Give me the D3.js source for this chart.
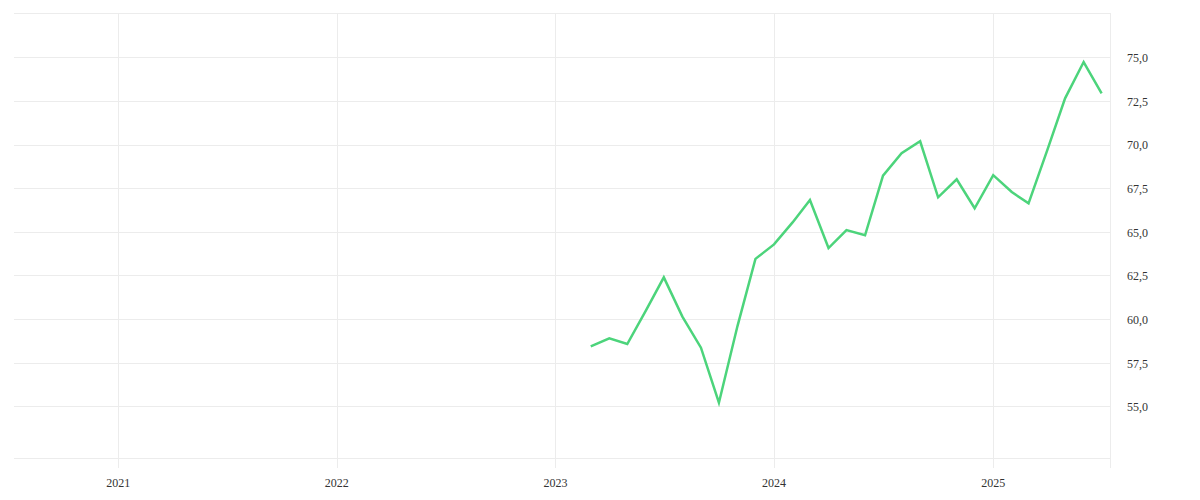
<!DOCTYPE html>
<html>
<head>
<meta charset="utf-8">
<script src="https://cdn.jsdelivr.net/npm/d3@7"></script>
<style>
  body { margin: 0; background: #fff; }
</style>
</head>
<body>
<div id="chart"></div>
<script>
// monthly values, Mar 2023 .. Jul 2025
const months = [
    "2023-03", "2023-04", "2023-05", "2023-06", "2023-07", "2023-08", "2023-09", "2023-10", "2023-11", "2023-12",
    "2024-01", "2024-02", "2024-03", "2024-04", "2024-05", "2024-06", "2024-07", "2024-08", "2024-09", "2024-10",
    "2024-11", "2024-12", "2025-01", "2025-02", "2025-03", "2025-04", "2025-05", "2025-06", "2025-07"
];
const values = [
    58.44, 58.9, 58.57, 60.48, 62.39, 60.14, 58.36, 55.21, 59.6, 63.45,
    64.28, 65.54, 66.82, 64.07, 65.1, 64.8, 68.22, 69.5, 70.19, 66.98,
    68.01, 66.35, 68.25, 67.28, 66.63, 69.65, 72.65, 74.73, 72.94
];
const yTicks = [55, 57.5, 60, 62.5, 65, 67.5, 70, 72.5, 75];
const xTickYears = ["2021", "2022", "2023", "2024", "2025"];

const W = 1200, H = 500;
const plot = { left: 14, right: 1110, top: 13, bottom: 458 };
const FONT = "'Liberation Serif', 'DejaVu Serif', serif";

const parseMonth = d3.timeParse("%Y-%m");
const data = months.map((m, i) => ({ date: parseMonth(m), value: values[i] }));

const svg = d3.select("#chart")
    .append("svg")
    .attr("width", W)
    .attr("height", H);

const xScale = d3.scaleTime()
    .domain([new Date(2020, 6, 11), new Date(2025, 6, 15)])
    .range([plot.left, plot.right]);

const yScale = d3.scaleLinear()
    .domain([52.04, 77.54])
    .range([plot.bottom, plot.top]);

const fmt = v => d3.format(".1f")(v).replace(".", ",");

// horizontal grid
svg.append("g")
    .selectAll("line")
    .data(yTicks)
    .enter()
    .append("line")
    .attr("x1", plot.left)
    .attr("x2", plot.right)
    .attr("y1", d => Math.round(yScale(d)) + 0.5)
    .attr("y2", d => Math.round(yScale(d)) + 0.5)
    .attr("stroke", "#ececec");

// frame lines (top, bottom, right)
svg.append("line")
    .attr("x1", plot.left).attr("x2", plot.right)
    .attr("y1", plot.top + 0.5).attr("y2", plot.top + 0.5)
    .attr("stroke", "#ececec");
svg.append("line")
    .attr("x1", plot.left).attr("x2", plot.right)
    .attr("y1", plot.bottom + 0.5).attr("y2", plot.bottom + 0.5)
    .attr("stroke", "#ececec");
svg.append("line")
    .attr("x1", plot.right + 0.5).attr("x2", plot.right + 0.5)
    .attr("y1", plot.top).attr("y2", plot.bottom + 10)
    .attr("stroke", "#ececec");

// vertical grid + x labels
const yearDates = xTickYears.map(y => d3.timeParse("%Y")(y));
svg.append("g")
    .selectAll("line")
    .data(yearDates)
    .enter()
    .append("line")
    .attr("x1", d => Math.round(xScale(d)) + 0.5)
    .attr("x2", d => Math.round(xScale(d)) + 0.5)
    .attr("y1", plot.top)
    .attr("y2", plot.bottom + 10)
    .attr("stroke", "#ececec");

svg.append("g")
    .selectAll("text")
    .data(yearDates)
    .enter()
    .append("text")
    .attr("x", d => xScale(d))
    .attr("y", 487)
    .attr("text-anchor", "middle")
    .attr("font-family", FONT)
    .attr("font-size", 12)
    .attr("fill", "#333")
    .text(d => d3.timeFormat("%Y")(d));

// y labels on right
svg.append("g")
    .selectAll("text")
    .data(yTicks)
    .enter()
    .append("text")
    .attr("x", 1127)
    .attr("y", d => yScale(d))
    .attr("dy", "0.4em")
    .attr("font-family", FONT)
    .attr("font-size", 12)
    .attr("fill", "#333")
    .text(d => fmt(d));

// line
const line = d3.line()
    .x(d => xScale(d.date))
    .y(d => yScale(d.value));

svg.append("path")
    .datum(data)
    .attr("fill", "none")
    .attr("stroke", "#4cd47b")
    .attr("stroke-width", 2.5)
    .attr("stroke-linejoin", "miter")
    .attr("d", line);
</script>
</body>
</html>
